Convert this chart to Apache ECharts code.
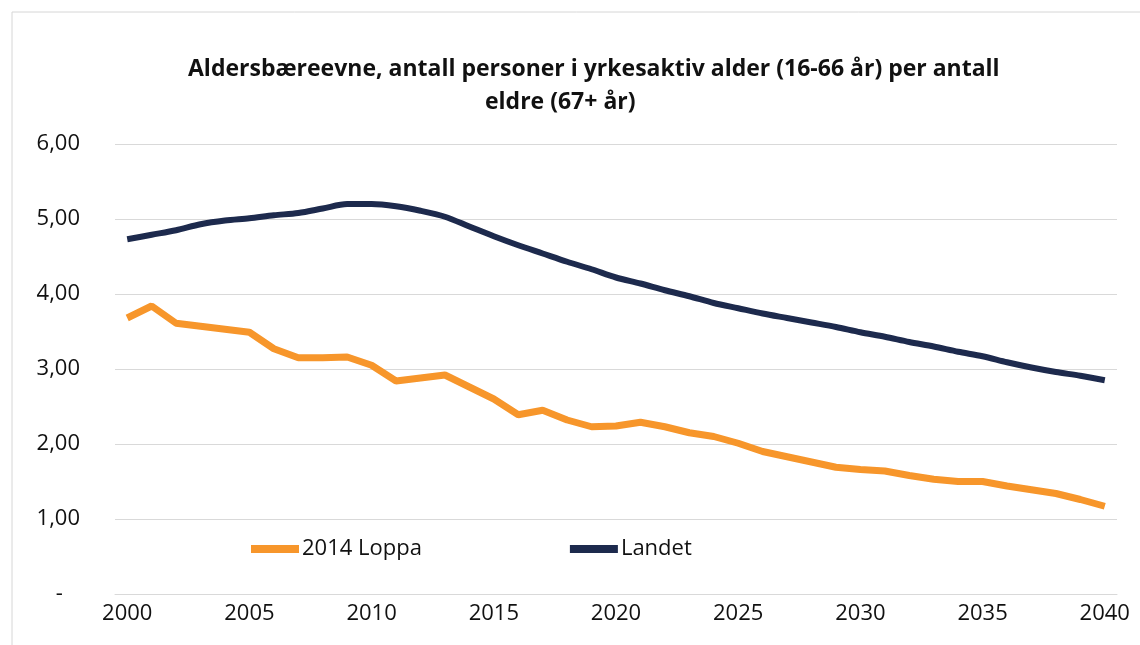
<!DOCTYPE html>
<html>
<head>
<meta charset="utf-8">
<script src="https://cdn.jsdelivr.net/npm/echarts@6/dist/echarts.min.js"></script>
<style>
  html, body { margin: 0; padding: 0; background: #fff; }
  #chart { width: 1140px; height: 645px; }
</style>
</head>
<body>
<div id="chart"></div>
<script>
const years = [];
for (let y = 2000; y <= 2040; y++) years.push(String(y));

const loppa = [
  3.68, 3.84, 3.61, 3.57, 3.53, 3.49, 3.27, 3.15, 3.15, 3.16,
  3.05, 2.84, 2.88, 2.92, 2.76, 2.60, 2.39, 2.45, 2.32, 2.23,
  2.24, 2.29, 2.23, 2.15, 2.10, 2.01, 1.90, 1.83, 1.76, 1.69,
  1.66, 1.64, 1.58, 1.53, 1.50, 1.50, 1.44, 1.39, 1.34, 1.26,
  1.17
];

const landet = [
  4.73, 4.79, 4.85, 4.93, 4.98, 5.01, 5.05, 5.08, 5.14, 5.20,
  5.20, 5.17, 5.11, 5.03, 4.90, 4.77, 4.65, 4.54, 4.43, 4.33,
  4.22, 4.14, 4.05, 3.97, 3.88, 3.81, 3.74, 3.68, 3.62, 3.56,
  3.49, 3.43, 3.36, 3.30, 3.23, 3.17, 3.09, 3.02, 2.96, 2.91,
  2.85
];

const titleLines = [
  'Aldersbæreevne, antall personer i yrkesaktiv alder (16-66 år) per antall',
  'eldre (67+ år)'
];

const yTicks = { min: 0, max: 6, interval: 1 };

const chart = echarts.init(document.getElementById('chart'));
const font = '"Open Sans", Lato, sans-serif';
const titleStyle = {
  fontFamily: font,
  fontSize: 23,
  fontWeight: 'bold',
  color: '#111'
};

chart.setOption({
  backgroundColor: '#fff',
  animation: false,
  title: [
    { text: titleLines[0], left: 183, top: 53, textStyle: titleStyle },
    { text: titleLines[1], left: 480, top: 86, textStyle: titleStyle }
  ],
  graphic: [{
    type: 'rect',
    shape: { x: 12, y: 12, width: 1140, height: 650 },
    style: { fill: 'none', stroke: '#d6d6d6', lineWidth: 1 }
  }],
  legend: {
    left: 246,
    top: 533,
    itemWidth: 48,
    itemHeight: 8,
    itemGap: 148,
    icon: 'rect',
    textStyle: { fontFamily: font, fontSize: 22, color: '#111', padding: [0, 0, 0, -2] },
    data: ['2014 Loppa', 'Landet']
  },
  grid: { left: 115, right: 23, top: 144, bottom: 51 },
  xAxis: {
    type: 'category',
    data: years,
    boundaryGap: true,
    axisLine: { show: true, lineStyle: { color: '#d9d9d9', width: 1 } },
    axisTick: { show: false },
    axisLabel: {
      interval: 4,
      margin: 9,
      fontFamily: font,
      fontSize: 22,
      color: '#111'
    }
  },
  yAxis: {
    type: 'value',
    min: yTicks.min,
    max: yTicks.max,
    interval: yTicks.interval,
    axisLine: { show: false },
    axisTick: { show: false },
    splitLine: { lineStyle: { color: '#d9d9d9', width: 1 } },
    axisLabel: {
      margin: 35,
      fontFamily: font,
      fontSize: 22,
      color: '#111',
      formatter: v => v === 0 ? '-   ' : v.toFixed(2).replace('.', ',')
    }
  },
  series: [
    {
      name: '2014 Loppa',
      type: 'line',
      data: loppa,
      symbol: 'none',
      color: '#f7962b',
      lineStyle: { width: 7, color: '#f7962b' }
    },
    {
      name: 'Landet',
      type: 'line',
      data: landet,
      symbol: 'none',
      smooth: 0.3,
      color: '#1d2a4d',
      lineStyle: { width: 6, color: '#1d2a4d' }
    }
  ]
});
</script>
</body>
</html>
